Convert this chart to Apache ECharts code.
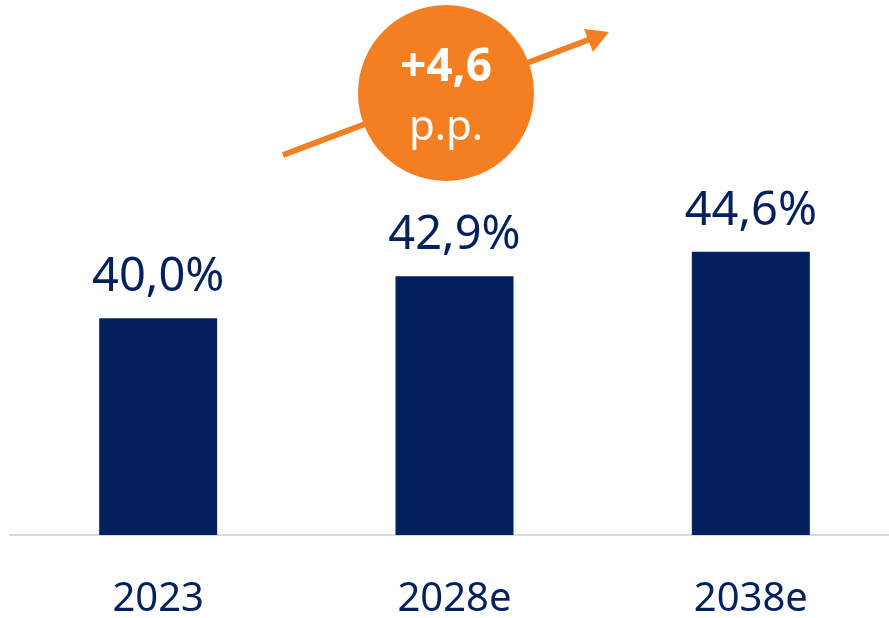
<!DOCTYPE html>
<html>
<head>
<meta charset="utf-8">
<script src="https://cdn.jsdelivr.net/npm/echarts@6/dist/echarts.min.js"></script>
<style>
    html, body { margin: 0; padding: 0; background: #fff; }
    #chart { width: 889px; height: 618px; }
</style>
</head>
<body>
<div id="chart"></div>
<script>
var years = ['2023', '2028e', '2038e'];
var shares = [40.0, 42.9, 44.6];
var deltaUnit = 'p.p.';

var navy = '#03205e';
var orange = '#f47f22';
var font = '"Noto Sans", sans-serif';

var fmt = function(v) {
    return v.toFixed(1).replace('.', ',');
};

var delta = shares[shares.length - 1] - shares[0];

var myChart = echarts.init(document.getElementById('chart'), null, { renderer: 'canvas' });

var option = {
    animation: false,
    backgroundColor: '#ffffff',
    grid: {
        left: 10,
        top: 29,
        width: 889,
        height: 506,
        outerBoundsMode: 'none',
        containLabel: false
    },
    xAxis: {
        type: 'category',
        data: years,
        axisLine: { lineStyle: { color: '#d9d9d9', width: 2 } },
        axisTick: { show: false },
        axisLabel: {
            margin: 45,
            color: navy,
            fontFamily: font,
            fontSize: 40
        }
    },
    yAxis: {
        type: 'value',
        min: 25,
        max: 60,
        show: false,
        splitLine: { show: false }
    },
    series: [{
        type: 'bar',
        data: shares,
        barWidth: 118,
        itemStyle: { color: navy },
        label: {
            show: true,
            position: 'top',
            distance: 17,
            color: navy,
            fontFamily: font,
            fontSize: 47,
            formatter: function(p) {
                return fmt(p.value) + '%';
            }
        }
    }],
    graphic: [
        {
            type: 'line',
            z: 10,
            shape: { x1: 283, y1: 155, x2: 596, y2: 37 },
            style: { stroke: orange, lineWidth: 6 }
        },
        {
            type: 'polygon',
            z: 10,
            shape: { points: [[609, 32], [584, 29], [593, 52]] },
            style: { fill: orange }
        },
        {
            type: 'circle',
            z: 11,
            shape: { cx: 446, cy: 93, r: 88 },
            style: { fill: orange }
        },
        {
            type: 'text',
            z: 12,
            x: 446,
            y: 68,
            style: {
                text: '+' + fmt(delta),
                fill: '#ffffff',
                font: 'bold 46px "Noto Sans", sans-serif',
                textAlign: 'center',
                textVerticalAlign: 'middle'
            }
        },
        {
            type: 'text',
            z: 12,
            x: 446,
            y: 128,
            style: {
                text: deltaUnit,
                fill: '#ffffff',
                font: '42px "Noto Sans", sans-serif',
                textAlign: 'center',
                textVerticalAlign: 'middle'
            }
        }
    ]
};

myChart.setOption(option);
</script>
</body>
</html>
